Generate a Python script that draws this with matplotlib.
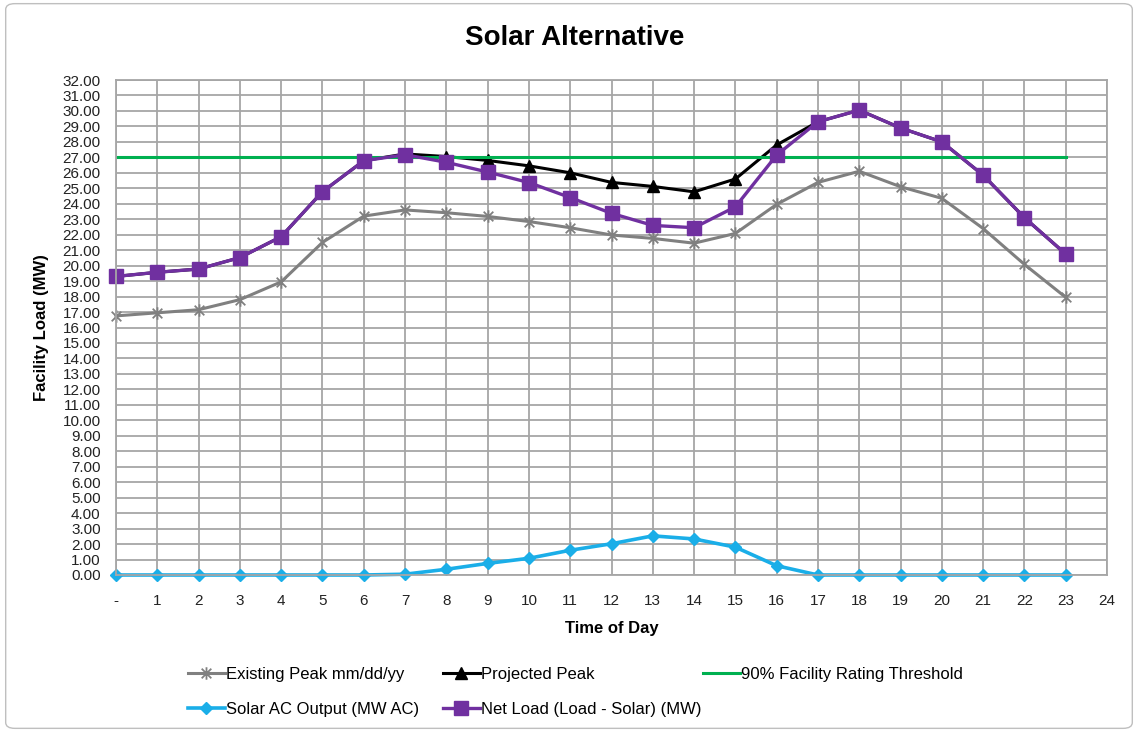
import matplotlib.pyplot as plt
from matplotlib.path import Path
from matplotlib.patches import FancyBboxPatch

plt.rcParams['font.family'] = ['Liberation Sans', 'DejaVu Sans']

# Hourly loads (MW)
hours = list(range(24))
existing_peak = [16.75, 16.95, 17.15, 17.8, 18.95, 21.5, 23.2, 23.6, 23.42, 23.18, 22.85, 22.45,
                 21.98, 21.76, 21.45, 22.08, 23.96, 25.38, 26.1, 25.1, 24.35, 22.4, 20.08, 17.95]
projected_peak = [19.3, 19.57, 19.78, 20.52, 21.87, 24.78, 26.78, 27.22, 27.05, 26.8, 26.45, 26.0,
                  25.38, 25.12, 24.77, 25.6, 27.8, 29.3, 30.05, 28.9, 28.0, 25.85, 23.1, 20.75]
threshold = [27.0] * 24
solar_output = [0, 0, 0, 0, 0, 0, 0, 0.05, 0.37, 0.75, 1.08, 1.6,
                2.02, 2.53, 2.33, 1.8, 0.6, 0, 0, 0, 0, 0, 0, 0]
net_load = [19.3, 19.57, 19.78, 20.52, 21.87, 24.78, 26.78, 27.17, 26.68, 26.05, 25.37, 24.4,
            23.38, 22.6, 22.45, 23.8, 27.15, 29.3, 30.05, 28.9, 28.0, 25.85, 23.1, 20.75]

x_labels = ['-'] + [str(i) for i in range(1, 25)]

# asterisk marker: an X with a vertical stroke through it
ast = Path([(-1, -1), (1, 1), (-1, 1), (1, -1), (0, -1.3), (0, 1.3)],
           [Path.MOVETO, Path.LINETO, Path.MOVETO, Path.LINETO, Path.MOVETO, Path.LINETO])

fig = plt.figure(figsize=(11.38, 7.32), dpi=100)
ax = fig.add_axes([116 / 1138, 157 / 732, (1107 - 116) / 1138, (575 - 80) / 732])

l1, = ax.plot(hours, existing_peak, color='#808080', lw=2.2, marker=ast, ms=9, mew=1.3,
              clip_on=False, label='Existing Peak mm/dd/yy')
l2, = ax.plot(hours, projected_peak, color='black', lw=2.2, marker='^', ms=8,
              clip_on=False, label='Projected Peak')
l3, = ax.plot(hours, threshold, color='#00b050', lw=2.2, label='90% Facility Rating Threshold')
l4, = ax.plot(hours, solar_output, color='#1aaee8', lw=2.6, marker='D', ms=6.5,
              clip_on=False, label='Solar AC Output (MW AC)')
l5, = ax.plot(hours, net_load, color='#7030a0', lw=2.4, marker='s', ms=9.5,
              clip_on=False, label='Net Load (Load - Solar) (MW)')

ax.set_xlim(0, 24)
ax.set_ylim(0, 32)
ax.set_xticks(range(25))
ax.set_xticklabels(x_labels)
ax.set_yticks(range(33))
ax.set_yticklabels([f'{v:.2f}' for v in range(33)])
ax.tick_params(length=0, labelsize=11, colors='#222222')
ax.tick_params(axis='x', pad=14)
ax.tick_params(axis='y', pad=11)
ax.grid(True, color='#a6a6a6', lw=1.3)
ax.set_axisbelow(True)
for s in ax.spines.values():
    s.set_color('#a6a6a6')
    s.set_linewidth(1.3)

ax.set_xlabel('Time of Day', fontsize=12, fontweight='bold', labelpad=9)
ax.set_ylabel('Facility Load (MW)', fontsize=12, fontweight='bold', labelpad=10)
fig.text(575 / 1138, 1 - 38 / 732, 'Solar Alternative', ha='center', va='center',
         fontsize=20, fontweight='bold')

# legend: three columns placed individually
cols = [([l1, l4], 188), ([l2, l5], 443), ([l3], 703)]
for handles, xpix in cols:
    leg = fig.legend(handles, [h.get_label() for h in handles], frameon=False,
                     loc='upper left', bbox_to_anchor=(xpix / 1138, 1 - 667 / 732),
                     fontsize=12, handlelength=2.2, handletextpad=0.1,
                     labelspacing=1.2, borderpad=0, borderaxespad=0)

# chart border
fig.patches.append(FancyBboxPatch((0.005, 0.005), 0.99, 0.99, boxstyle='round,pad=0,rounding_size=0.008',
                                  transform=fig.transFigure, fill=False, ec='#bfbfbf', lw=1))

fig.savefig('out.png', dpi=100)
